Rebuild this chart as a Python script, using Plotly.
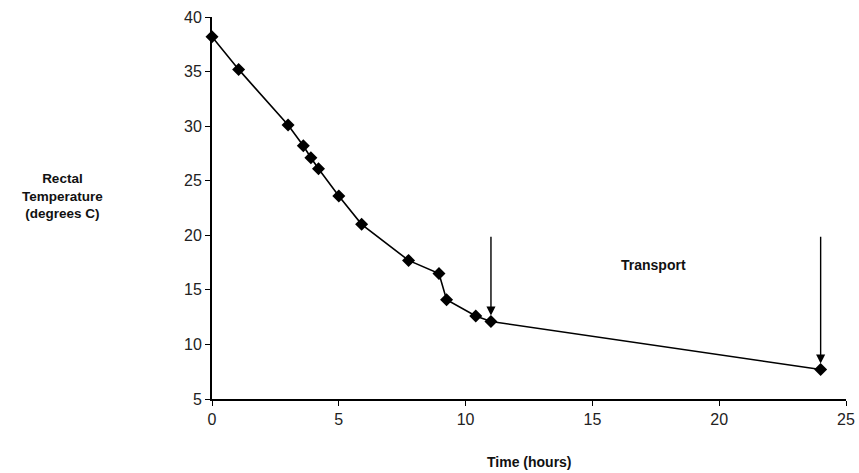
import plotly.graph_objects as go

time_hours = [0, 1.05, 3.0, 3.6, 3.9, 4.2, 5.0, 5.9, 7.75, 8.95, 9.25, 10.4, 11.0, 24.0]
rectal_temp = [38.2, 35.2, 30.1, 28.2, 27.1, 26.1, 23.6, 21.0, 17.7, 16.5, 14.1, 12.6, 12.1, 7.7]
x_ticks = [0, 5, 10, 15, 20, 25]
y_ticks = [5, 10, 15, 20, 25, 30, 35, 40]
arrow_x = [11.0, 24.0]
arrow_tip_y = [12.1, 7.7]
arrow_top_y = 20.0

fig = go.Figure()
fig.add_trace(go.Scatter(
    x=time_hours, y=rectal_temp, mode="lines+markers",
    line=dict(color="black", width=1.6),
    marker=dict(symbol="diamond", size=10, color="black"),
    showlegend=False, cliponaxis=False,
))

for ax_x, tip in zip(arrow_x, arrow_tip_y):
    fig.add_annotation(
        x=ax_x, y=tip, ax=ax_x, ay=arrow_top_y, xref="x", yref="y",
        axref="x", ayref="y", text="", showarrow=True,
        arrowhead=2, arrowsize=1.3, arrowwidth=1.4, arrowcolor="black", standoff=6,
    )

fig.add_annotation(x=17.4, y=17.3, xref="x", yref="y", text="<b>Transport</b>",
                   showarrow=False, font=dict(family="Liberation Sans", size=14, color="#111"))

fig.add_annotation(x=(62 - 212) / 634, y=1 - (196 - 17) / 382, xref="paper", yref="paper",
                   text="<b>Rectal<br>Temperature<br>(degrees C)</b>", xanchor="center", yanchor="middle",
                   showarrow=False, align="center", font=dict(family="Liberation Sans", size=13.5, color="#111"))

fig.add_annotation(x=0.5, y=(399 - 462) / 382, xref="paper", yref="paper",
                   text="<b>Time (hours)</b>", xanchor="center", yanchor="middle",
                   showarrow=False, font=dict(family="Liberation Sans", size=14, color="#111"))

fig.update_layout(
    width=859, height=473,
    margin=dict(l=212, r=13, t=17, b=74),
    paper_bgcolor="white", plot_bgcolor="white",
    font=dict(family="Liberation Sans", size=16, color="#222"),
    xaxis=dict(range=[0, 25], tickvals=x_ticks, showgrid=False, zeroline=False,
               showline=True, linecolor="black", linewidth=1.8, automargin=False,
               ticks="outside", ticklen=5, tickwidth=1.3, tickcolor="black"),
    yaxis=dict(range=[5, 40], tickvals=y_ticks, showgrid=False, zeroline=False,
               showline=True, linecolor="black", linewidth=1.8, automargin=False,
               ticks="outside", ticklen=5, tickwidth=1.3, tickcolor="black"),
)

fig.write_html("out.html", config={"displayModeBar": False},
               post_script="document.body.style.margin='0';document.body.style.overflow='hidden';")
